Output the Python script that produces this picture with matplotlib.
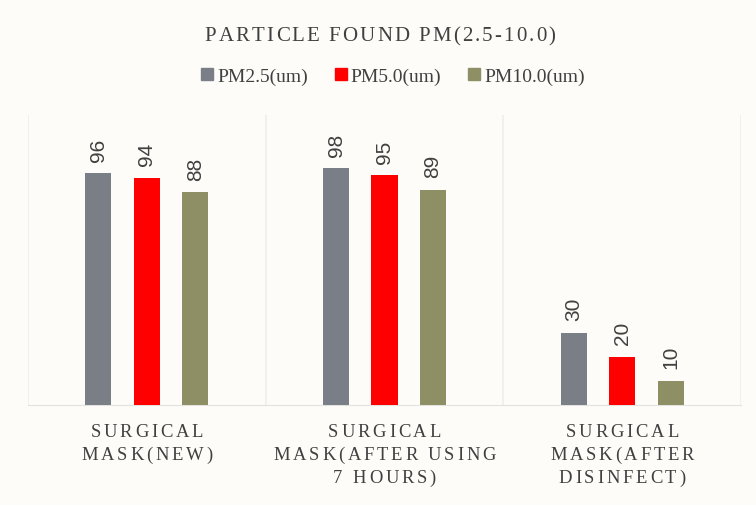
import matplotlib.pyplot as plt
import numpy as np
from matplotlib.patches import Patch
from matplotlib.font_manager import FontProperties

categories = ["SURGICAL\nMASK(NEW)", "SURGICAL\nMASK(AFTER USING\n7 HOURS)", "SURGICAL\nMASK(AFTER\nDISINFECT)"]
series = ["PM2.5(um)", "PM5.0(um)", "PM10.0(um)"]
pm25 = [96, 98, 30]
pm50 = [94, 95, 20]
pm100 = [88, 89, 10]
colors = ["#7a7f87", "#ff0000", "#8f8f66"]
title = "PARTICLE FOUND PM(2.5-10.0)"

bg = "#fdfcf9"
txt = "#404040"
serif = ["Liberation Serif", "DejaVu Serif"]
W, H = 756, 506

fig = plt.figure(figsize=(W / 100, H / 100), dpi=100, facecolor=bg)
ax = fig.add_axes([28 / W, 100 / H, 713 / W, 290 / H], facecolor=bg)
renderer = fig.canvas.get_renderer()


def advance(ch, fp):
    # glyph advance width in px, measured between two bars
    w2 = renderer.get_text_width_height_descent("||", fp, ismath=False)[0]
    w3 = renderer.get_text_width_height_descent("|" + ch + "|", fp, ismath=False)[0]
    return w3 - w2


def tracked(s, cx, base_y, size, track):
    # letter-spaced text, centred on cx, baseline at base_y (px from top)
    fp = FontProperties(family=serif, size=size)
    widths = [advance(ch, fp) for ch in s]
    total = sum(widths) + track * (len(s) - 1)
    xp = cx - total / 2
    for ch, w in zip(s, widths):
        if ch != " ":
            fig.text(xp / W, 1 - base_y / H, ch, fontproperties=fp, ha="left",
                     va="baseline", color=txt)
        xp += w + track


x = np.arange(len(categories))
w = 0.11
off = 0.204
for i, vals in enumerate([pm25, pm50, pm100]):
    bars = ax.bar(x + (i - 1) * off, vals, w, color=colors[i], zorder=3)
    for b, v in zip(bars, vals):
        ax.annotate(str(v), (b.get_x() + b.get_width() / 2, v), xytext=(0, 9),
                    textcoords="offset points", rotation=90, ha="center", va="bottom",
                    fontsize=15, color=txt, family="Liberation Sans")

ax.set_xlim(-0.5, len(categories) - 0.5)
ax.set_ylim(0, 120)
for s in ["top", "right", "left"]:
    ax.spines[s].set_visible(False)
ax.spines["bottom"].set_color("#e3e2de")
ax.set_yticks([])
ax.set_xticks([])
for xv in np.arange(-0.5, len(categories), 1.0):
    ax.axvline(xv, color="#efeeea", lw=1.2, zorder=1)

# category labels
for xi, c in zip(x, categories):
    cx = ax.transData.transform((xi, 0))[0]
    for j, line in enumerate(c.split("\n")):
        tracked(line, cx, 437 + 23 * j, 13.4, 2.8)

tracked(title, 380, 41, 15, 2.1)

handles = [Patch(color=c) for c in colors]
fig.legend(handles, series, loc="center", bbox_to_anchor=(393 / W, 1 - 77 / H), ncol=3,
           frameon=False, prop={"family": serif, "size": 14}, handlelength=0.6,
           handleheight=0.6, handletextpad=0.2, columnspacing=1.4, labelcolor=txt)

fig.savefig("out.png", dpi=100, facecolor=bg)
